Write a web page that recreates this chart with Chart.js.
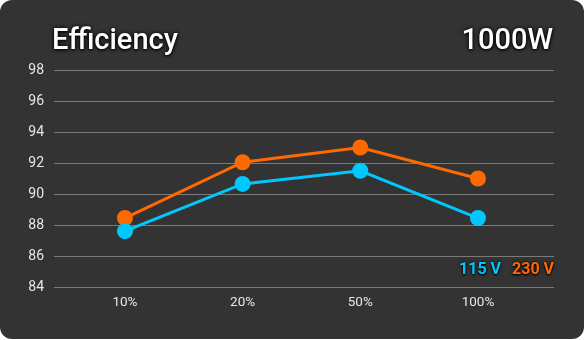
<!DOCTYPE html>
<html>
<head>
<meta charset="utf-8">
<script src="https://cdn.jsdelivr.net/npm/chart.js@4"></script>
<style>
  html, body { margin: 0; padding: 0; background: #fff; }
  #card {
    position: relative;
    width: 584px;
    height: 339px;
    background: #333333;
    border-radius: 12px;
    overflow: hidden;
    font-family: Roboto, sans-serif;
  }
  #card canvas { position: absolute; left: 0; top: 0; }
  .title {
    position: absolute;
    top: 21px;
    color: #fff;
    font-size: 29px;
    font-weight: 500;
    text-shadow: 0 0 4px #000, 0 1px 3px #000;
    line-height: 36px;
  }
  #legend {
    position: absolute;
    right: 30px;
    top: 258px;
    font-size: 16px;
    font-weight: 700;
    line-height: 22px;
    text-shadow: 0 0 3px #000, 0 1px 2px #000;
  }
  #legend span { margin-left: 11px; }
</style>
</head>
<body>
<div id="card">
  <canvas id="effChart" width="584" height="339"></canvas>
  <div class="title" style="left:52px">Efficiency</div>
  <div class="title" style="right:31px">1000W</div>
  <div id="legend"></div>
</div>
<script>
// load points
const loads = ['10%', '20%', '50%', '100%'];
const eff115 = [87.6, 90.65, 91.5, 88.45];
const eff230 = [88.45, 92.05, 93.0, 91.0];
const seriesNames = ['115 V', '230 V'];
const seriesColors = ['#00c8ff', '#ff6a00'];
const yTicks = [84, 86, 88, 90, 92, 94, 96, 98];

function toPoints(values) {
    return values.map((v, i) => ({ x: i, y: v }));
}

// legend as plain text, coloured per series
const legend = document.getElementById('legend');
seriesNames.forEach((name, i) => {
    const s = document.createElement('span');
    s.textContent = name;
    s.style.color = seriesColors[i];
    legend.appendChild(s);
});

const ctx = document.getElementById('effChart').getContext('2d');
new Chart(ctx, {
    type: 'line',
    data: {
        datasets: [
            {
                label: seriesNames[0],
                data: toPoints(eff115),
                borderColor: seriesColors[0],
                backgroundColor: seriesColors[0],
                borderWidth: 3,
                pointRadius: 6.5,
                pointHoverRadius: 6.5
            },
            {
                label: seriesNames[1],
                data: toPoints(eff230),
                borderColor: seriesColors[1],
                backgroundColor: seriesColors[1],
                borderWidth: 3,
                pointRadius: 6.5,
                pointHoverRadius: 6.5
            }
        ]
    },
    options: {
        responsive: false,
        animation: false,
        layout: { padding: { left: 0, top: 70, right: 30, bottom: 0 } },
        plugins: {
            legend: { display: false },
            tooltip: { enabled: false }
        },
        scales: {
            x: {
                type: 'linear',
                min: -0.603,
                max: 3.646,
                grid: { display: false, drawTicks: false },
                border: { display: false },
                afterFit: (scale) => { scale.height = 52; },
                ticks: {
                    stepSize: 1,
                    includeBounds: false,
                    padding: 8,
                    color: '#e6e6e6',
                    font: { family: 'Roboto', size: 13.5 },
                    callback: (v) => loads[v] || ''
                }
            },
            y: {
                min: yTicks[0],
                max: yTicks[yTicks.length - 1],
                afterFit: (scale) => { scale.width = 54; },
                grid: { color: '#7a7a7a', lineWidth: 1, drawTicks: false },
                border: { display: false },
                ticks: {
                    stepSize: 2,
                    padding: 10,
                    color: '#e6e6e6',
                    font: { family: 'Roboto', size: 14 }
                }
            }
        }
    }
});
</script>
</body>
</html>
